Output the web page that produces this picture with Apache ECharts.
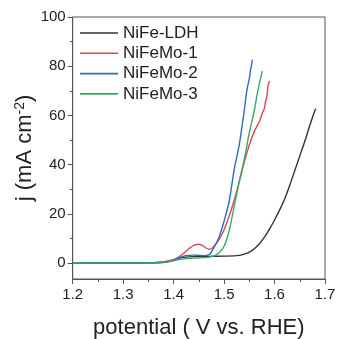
<!DOCTYPE html>
<html>
<head>
<meta charset="utf-8">
<script src="https://cdn.jsdelivr.net/npm/echarts@6/dist/echarts.min.js"></script>
<style>html,body{margin:0;padding:0;background:#fff}#c{width:337px;height:339px}</style>
</head>
<body>
<div id="c"></div>
<script>
var seriesNames = ['NiFe-LDH', 'NiFeMo-1', 'NiFeMo-2', 'NiFeMo-3'];
var ldhX = [1.20,1.30,1.36,1.38,1.39,1.40,1.41,1.42,1.44,1.47,1.50,1.52,1.53,1.54,1.55,1.56,1.57,1.58,1.59,1.60,1.61,1.62,1.63,1.64,1.65,1.66,1.67,1.68,1.682];
var ldhY = [0,0,0.1,0.3,0.7,1.3,1.9,2.3,2.6,2.7,2.8,2.9,3.1,3.6,4.4,5.8,7.8,10.5,13.8,17.5,21.5,26,31.5,37.5,43.5,49.5,56,62,62.8];
var mo1X = [1.20,1.30,1.36,1.38,1.39,1.40,1.41,1.42,1.43,1.44,1.45,1.46,1.465,1.47,1.475,1.48,1.49,1.50,1.51,1.52,1.53,1.54,1.55,1.56,1.57,1.575,1.58,1.582,1.585,1.587,1.59];
var mo1Y = [0,0,0.1,0.4,0.8,1.4,2.4,4.0,5.8,7.2,7.6,6.8,6.0,5.6,5.8,6.8,9.5,13.5,19,25.5,33,41,48,53.5,57.5,60.5,63,65.5,68,72,74];
var mo2X = [1.20,1.30,1.36,1.38,1.39,1.40,1.41,1.42,1.43,1.44,1.45,1.46,1.47,1.475,1.48,1.49,1.50,1.51,1.52,1.53,1.54,1.545,1.55,1.552,1.555,1.556];
var mo2Y = [0,0,0.1,0.3,0.6,1.1,2.0,2.8,3.1,3.2,3.1,3.0,3.4,4.5,6.3,10.5,17,25,38,48,62,70,75,78,81,82.7];
var mo3X = [1.20,1.30,1.36,1.38,1.39,1.40,1.41,1.42,1.44,1.46,1.47,1.48,1.49,1.50,1.51,1.52,1.53,1.54,1.55,1.56,1.565,1.57,1.574,1.576];
var mo3Y = [0,0,0,0.2,0.5,0.9,1.4,1.7,2.0,2.2,2.4,2.9,4.2,6.8,13,23,33,42,53,62,68,73,76.5,78];
var xTicks = [1.2,1.3,1.4,1.5,1.6,1.7];
var yTicks = [0,20,40,60,80,100];
var yMinorTicks = [10,30,50,70,90];
var xMinorTicks = [1.25,1.35,1.45,1.55,1.65];
var colors = ['#333333','#e0474c','#2d6cc2','#3aa865'];

function pairs(xs, ys){ return xs.map(function(x,i){ return [x, ys[i]]; }); }
var allX = [ldhX, mo1X, mo2X, mo3X];
var allY = [ldhY, mo1Y, mo2Y, mo3Y];

var chart = echarts.init(document.getElementById('c'));
var axisColor = '#555';
var FF = 'Liberation Sans, Arial, sans-serif';
var series = seriesNames.map(function(n, i){
  return {
    name: n, type: 'line', data: pairs(allX[i], allY[i]),
    symbol: 'none', smooth: 0.3, xAxisIndex: 0, yAxisIndex: 0,
    lineStyle: {color: colors[i], width: 1.4}, itemStyle: {color: colors[i]},
    animation: false
  };
});
chart.setOption({
  animation: false,
  textStyle: {fontFamily: FF},
  grid: {left: 72.7, right: 12, top: 17, bottom: 60, show: true, borderColor: axisColor, borderWidth: 1, backgroundColor: 'transparent', outerBoundsMode: 'none', containLabel: false},
  legend: {
    data: seriesNames, orient: 'vertical', left: 75, top: 19.5,
    itemWidth: 38, itemHeight: 14, itemGap: 3.3,
    textStyle: {fontSize: 17, color: '#222', fontFamily: FF},
    icon: 'path://M0,0 L38,0 L38,1.6 L0,1.6 Z'
  },
  xAxis: [{
    type: 'value', min: 1.2, max: 1.7,
    name: 'potential ( V vs. RHE)', nameLocation: 'middle', nameGap: 38, nameMoveOverlap: false,
    nameTextStyle: {fontSize: 22, color: '#222', fontFamily: FF},
    axisLine: {show: true, onZero: false, lineStyle: {color: axisColor}},
    axisTick: {show: true, inside: false, length: 5, customValues: xTicks, lineStyle: {color: axisColor}},
    axisLabel: {customValues: xTicks, fontSize: 15, color: '#222', margin: 8, formatter: function(v){ return v.toFixed(1); }},
    splitLine: {show: false}
  }, {
    type: 'value', min: 1.2, max: 1.7, position: 'bottom',
    axisLine: {show: false, onZero: false},
    axisTick: {show: true, length: 3, customValues: xMinorTicks, lineStyle: {color: axisColor}},
    axisLabel: {show: false}, splitLine: {show: false}
  }],
  yAxis: [{
    type: 'value', min: -6.5, max: 100,
    name: 'j (mA cm{sup|-2})', nameLocation: 'middle', nameGap: 36, nameRotate: 90, nameMoveOverlap: false,
    nameTextStyle: {fontSize: 22, color: '#222', fontFamily: FF,
      rich: {sup: {fontSize: 14, verticalAlign: 'top', padding: [0,0,10,0], color: '#222', fontFamily: FF}}},
    axisLine: {show: true, onZero: false, lineStyle: {color: axisColor}},
    axisTick: {show: true, inside: false, length: 5, customValues: yTicks, lineStyle: {color: axisColor}},
    axisLabel: {customValues: yTicks, fontSize: 15, color: '#222', margin: 7},
    splitLine: {show: false}
  }, {
    type: 'value', min: -6.5, max: 100, position: 'left',
    axisLine: {show: false, onZero: false},
    axisTick: {show: true, length: 3, customValues: yMinorTicks, lineStyle: {color: axisColor}},
    axisLabel: {show: false}, splitLine: {show: false}
  }],
  series: series
});
</script>
</body>
</html>
